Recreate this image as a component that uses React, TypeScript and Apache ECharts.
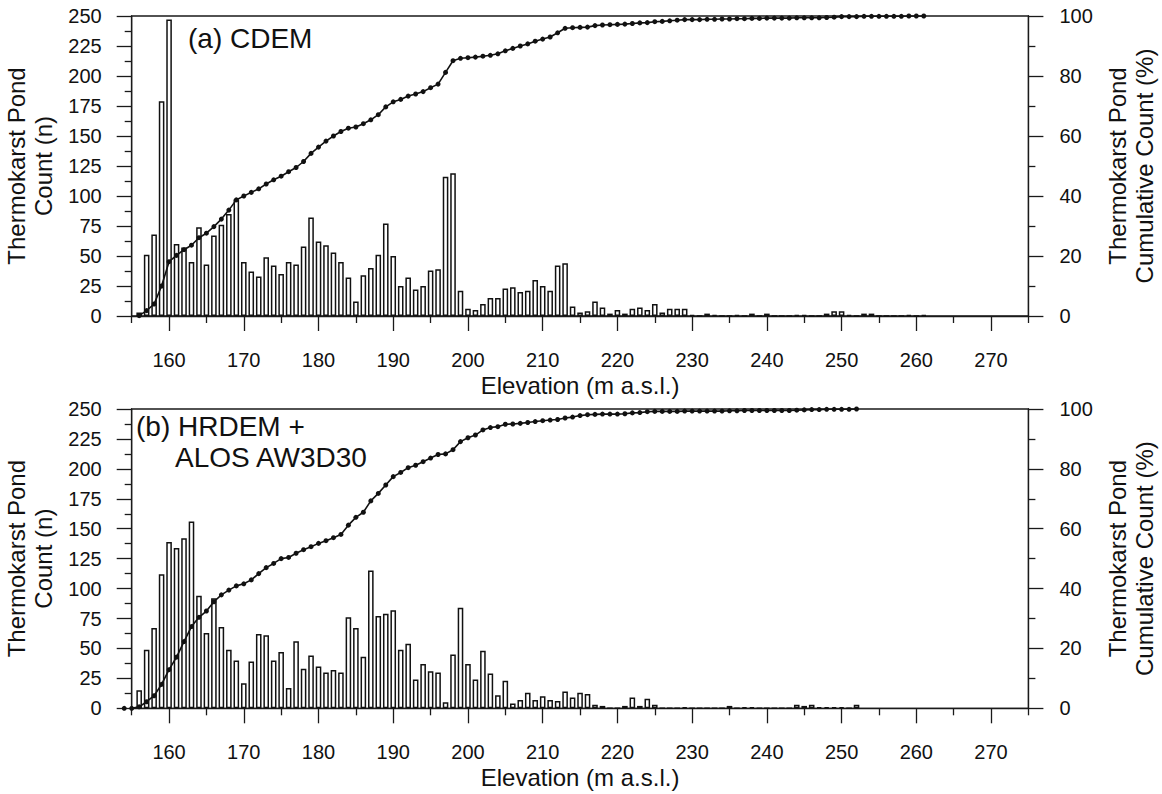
import React, { useEffect, useRef } from "react";
import * as echarts from "echarts";

// ---------- Data ----------
const xTickLabels = [160, 170, 180, 190, 200, 210, 220, 230, 240, 250, 260, 270];

// Panel (a) CDEM: histogram (1 m bins)
const elevA = [
  156, 157, 158, 159, 160, 161, 162, 163, 164, 165, 166, 167, 168, 169, 170, 171, 172, 173, 174, 175,
  176, 177, 178, 179, 180, 181, 182, 183, 184, 185, 186, 187, 188, 189, 190, 191, 192, 193, 194, 195,
  196, 197, 198, 199, 200, 201, 202, 203, 204, 205, 206, 207, 208, 209, 210, 211, 212, 213, 214, 215,
  216, 217, 218, 219, 220, 221, 222, 223, 224, 225, 226, 227, 228, 229, 230, 231, 232, 233, 234, 235,
  236, 237, 238, 239, 240, 241, 242, 243, 244, 245, 246, 247, 248, 249, 250, 251, 252, 253, 254, 255,
  256, 257, 258, 259, 260, 261,
];
const countA = [
  3, 51, 68, 179, 247, 60, 57, 45, 74, 43,
  67, 76, 85, 97, 45, 37, 33, 49, 42, 35,
  45, 43, 58, 82, 62, 59, 53, 45, 32, 12,
  34, 40, 51, 77, 50, 25, 32, 22, 25, 38,
  39, 116, 119, 21, 6, 5, 10, 15, 15, 23,
  24, 20, 21, 30, 25, 21, 42, 44, 8, 3,
  4, 12, 7, 2, 5, 2, 6, 7, 5, 10,
  3, 6, 6, 6, 1, 0, 2, 1, 0, 0,
  1, 0, 2, 0, 2, 0, 0, 0, 1, 1,
  0, 0, 2, 4, 4, 1, 0, 2, 2, 0,
  0, 0, 0, 1, 0, 1,
];
// Panel (a) cumulative count (%) at the same elevations
const cumA = [
  0.1, 1.8, 4.0, 10.0, 18.1, 20.2, 22.1, 23.6, 26.1, 27.6,
  29.8, 32.3, 35.3, 38.7, 40.0, 41.2, 42.4, 44.0, 45.4, 46.6,
  48.1, 49.5, 51.5, 54.2, 56.3, 58.3, 60.0, 61.5, 62.6, 63.0,
  64.1, 65.4, 67.1, 69.7, 71.4, 72.2, 73.3, 74.0, 74.8, 76.1,
  77.3, 81.2, 85.1, 85.9, 86.1, 86.3, 86.6, 86.9, 87.4, 88.4,
  89.2, 90.0, 90.7, 91.6, 92.3, 93.0, 94.4, 95.9, 96.1, 96.2,
  96.3, 96.8, 97.0, 97.1, 97.2, 97.3, 97.5, 97.7, 97.8, 98.1,
  98.2, 98.4, 98.6, 98.8, 98.8, 98.8, 98.9, 98.9, 99.0, 99.0,
  99.1, 99.1, 99.2, 99.2, 99.3, 99.3, 99.3, 99.3, 99.4, 99.4,
  99.4, 99.4, 99.5, 99.6, 99.8, 99.8, 99.8, 99.9, 99.9, 99.9,
  99.9, 99.9, 99.9, 100, 100, 100,
];

// Panel (b) HRDEM + ALOS AW3D30: histogram (1 m bins)
const elevB = [
  156, 157, 158, 159, 160, 161, 162, 163, 164, 165, 166, 167, 168, 169, 170, 171, 172, 173, 174, 175,
  176, 177, 178, 179, 180, 181, 182, 183, 184, 185, 186, 187, 188, 189, 190, 191, 192, 193, 194, 195,
  196, 197, 198, 199, 200, 201, 202, 203, 204, 205, 206, 207, 208, 209, 210, 211, 212, 213, 214, 215,
  216, 217, 218, 219, 220, 221, 222, 223, 224, 225, 226, 227, 228, 229, 230, 231, 232, 233, 234, 235,
  236, 237, 238, 239, 240, 241, 242, 243, 244, 245, 246, 247, 248, 249, 250, 251, 252,
];
const countB = [
  15, 49, 67, 112, 139, 134, 142, 156, 94, 63,
  92, 68, 49, 40, 21, 39, 62, 61, 40, 47,
  17, 56, 33, 44, 35, 30, 32, 30, 76, 67,
  43, 115, 77, 79, 82, 49, 54, 24, 37, 31,
  30, 5, 45, 84, 37, 24, 48, 29, 11, 23,
  4, 7, 13, 7, 10, 7, 6, 14, 9, 13,
  12, 3, 2, 0, 0, 2, 9, 2, 8, 3,
  0, 0, 0, 1, 0, 0, 0, 0, 0, 2,
  0, 1, 1, 0, 0, 0, 0, 0, 3, 2,
  3, 1, 1, 1, 1, 0, 3,
];
// Panel (b) cumulative count (%)
const cumElevB = [
  154, 155,
  156, 157, 158, 159, 160, 161, 162, 163, 164, 165, 166, 167, 168, 169, 170, 171, 172, 173, 174, 175,
  176, 177, 178, 179, 180, 181, 182, 183, 184, 185, 186, 187, 188, 189, 190, 191, 192, 193, 194, 195,
  196, 197, 198, 199, 200, 201, 202, 203, 204, 205, 206, 207, 208, 209, 210, 211, 212, 213, 214, 215,
  216, 217, 218, 219, 220, 221, 222, 223, 224, 225, 226, 227, 228, 229, 230, 231, 232, 233, 234, 235,
  236, 237, 238, 239, 240, 241, 242, 243, 244, 245, 246, 247, 248, 249, 250, 251, 252,
];
const cumB = [
  0, 0,
  0.5, 2.2, 4.2, 8.0, 12.9, 17.1, 22.3, 27.3, 30.4, 32.5,
  35.6, 37.9, 39.5, 40.9, 41.6, 42.9, 45.0, 47.0, 48.4, 50.0,
  50.4, 51.8, 53.0, 54.0, 55.1, 56.0, 57.0, 58.1, 61.2, 63.8,
  65.5, 69.3, 71.8, 74.6, 77.4, 78.8, 80.4, 81.2, 82.4, 83.6,
  84.8, 85.0, 86.4, 89.1, 90.4, 91.3, 93.0, 93.8, 94.1, 94.9,
  95.0, 95.2, 95.5, 95.8, 96.1, 96.3, 96.5, 97.0, 97.3, 97.8,
  98.1, 98.2, 98.3, 98.3, 98.3, 98.4, 98.7, 98.8, 99.1, 99.2,
  99.2, 99.2, 99.2, 99.3, 99.3, 99.3, 99.3, 99.3, 99.3, 99.4,
  99.4, 99.5, 99.5, 99.5, 99.5, 99.5, 99.5, 99.5, 99.6, 99.7,
  99.8, 99.8, 99.9, 99.9, 99.9, 99.9, 100,
];

const panelLabelA = "(a) CDEM";
const panelLabelB1 = "(b) HRDEM +";
const panelLabelB2 = "ALOS AW3D30";
const xName = "Elevation (m a.s.l.)";
const yLeftName = "Thermokarst Pond\nCount (n)";
const yRightName = "Thermokarst Pond\nCumulative Count (%)";

// ---------- Styling ----------
const FONT = "'Liberation Sans', Arial, Helvetica, sans-serif";
const INK = "#111";
const LINE = "#1a1a1a";

const pairs = (xs: number[], ys: number[]) => xs.map((x, i) => [x, ys[i]]);

function buildOption() {
  const grids = [
    { left: 131.7, top: 16, width: 896.7, height: 300 },
    { left: 131.7, top: 409, width: 896.7, height: 299.3 },
  ].map((g) => ({
    ...g,
    show: true,
    borderColor: LINE,
    borderWidth: 1.3,
    backgroundColor: "transparent",
    containLabel: false,
    outerBoundsMode: "none",
  }));

  const xAxes: any[] = [];
  const yAxes: any[] = [];
  [0, 1].forEach((gi) => {
    // main axis with labelled (major) ticks
    xAxes.push({
      type: "value",
      gridIndex: gi,
      position: "bottom",
      min: 155,
      max: 275,
      interval: 5,
      splitLine: { show: false },
      axisLine: { show: true, onZero: false, lineStyle: { color: LINE, width: 1.3 } },
      axisTick: {
        show: true,
        length: 15,
        customValues: xTickLabels,
        lineStyle: { color: LINE, width: 1.3 },
      },
      axisLabel: {
        show: true,
        customValues: xTickLabels,
        margin: 34,
        fontSize: 20,
        color: INK,
        fontFamily: FONT,
      },
      name: xName,
      nameLocation: "middle",
      nameGap: 57,
      nameTextStyle: { fontSize: 24, color: INK, fontFamily: FONT },
    });
    // secondary axis: short ticks at 155, 165, ... 275
    xAxes.push({
      type: "value",
      gridIndex: gi,
      position: "bottom",
      min: 155,
      max: 275,
      interval: 10,
      splitLine: { show: false },
      axisLine: { show: false },
      axisTick: { show: true, length: 7, lineStyle: { color: LINE, width: 1.3 } },
      axisLabel: { show: false },
    });
    yAxes.push({
      type: "value",
      gridIndex: gi,
      position: "left",
      min: 0,
      max: 250,
      interval: 25,
      splitLine: { show: false },
      axisLine: { show: true, lineStyle: { color: LINE, width: 1.3 } },
      axisTick: { show: true, length: 15, lineStyle: { color: LINE, width: 1.3 } },
      minorTick: { show: true, splitNumber: 2, length: 7, lineStyle: { color: LINE, width: 1.3 } },
      axisLabel: { margin: 30, fontSize: 20, color: INK, fontFamily: FONT },
      name: yLeftName,
      nameLocation: "middle",
      nameRotate: 90,
      nameGap: 73,
      nameTextStyle: { fontSize: 24, lineHeight: 27, color: INK, fontFamily: FONT, align: "center" },
    });
    yAxes.push({
      type: "value",
      gridIndex: gi,
      position: "right",
      min: 0,
      max: 100,
      interval: 20,
      splitLine: { show: false },
      axisLine: { show: true, lineStyle: { color: LINE, width: 1.3 } },
      axisTick: { show: true, length: 15, lineStyle: { color: LINE, width: 1.3 } },
      minorTick: { show: true, splitNumber: 2, length: 7, lineStyle: { color: LINE, width: 1.3 } },
      axisLabel: { margin: 31, fontSize: 20, color: INK, fontFamily: FONT },
      name: yRightName,
      nameLocation: "middle",
      nameRotate: 90,
      nameGap: 69,
      nameTextStyle: { fontSize: 24, lineHeight: 27, color: INK, fontFamily: FONT, align: "center" },
    });
  });

  const barStyle = {
    color: "#ffffff",
    borderColor: "#111",
    borderWidth: 1.5,
  };
  const lineCommon = {
    type: "line",
    symbol: "circle",
    symbolSize: 5,
    showSymbol: true,
    lineStyle: { color: "#111", width: 1.6 },
    itemStyle: { color: "#111" },
    z: 5,
  };

  const series: any[] = [
    {
      type: "bar",
      xAxisIndex: 0,
      yAxisIndex: 0,
      barWidth: 5.6,
      itemStyle: barStyle,
      data: pairs(elevA, countA),
      z: 2,
    },
    { ...lineCommon, xAxisIndex: 0, yAxisIndex: 1, data: pairs(elevA, cumA) },
    {
      type: "bar",
      xAxisIndex: 2,
      yAxisIndex: 2,
      barWidth: 5.6,
      itemStyle: barStyle,
      data: pairs(elevB, countB),
      z: 2,
    },
    { ...lineCommon, xAxisIndex: 2, yAxisIndex: 3, clip: false, data: pairs(cumElevB, cumB) },
  ];

  const graphic = [
    {
      type: "text",
      left: 188,
      top: 24,
      style: { text: panelLabelA, fontSize: 28, fill: INK, fontFamily: FONT },
      z: 10,
    },
    {
      type: "text",
      left: 136,
      top: 412,
      style: { text: panelLabelB1, fontSize: 28, fill: INK, fontFamily: FONT },
      z: 10,
    },
    {
      type: "text",
      left: 175,
      top: 443,
      style: { text: panelLabelB2, fontSize: 28, fill: INK, fontFamily: FONT },
      z: 10,
    },
  ];

  return {
    animation: false,
    backgroundColor: "#ffffff",
    textStyle: { fontFamily: FONT },
    grid: grids,
    xAxis: xAxes,
    yAxis: yAxes,
    series,
    graphic,
  };
}

export default function App() {
  const ref = useRef<HTMLDivElement>(null);
  useEffect(() => {
    if (!ref.current) return;
    const chart = echarts.init(ref.current, undefined, { renderer: "svg" });
    chart.setOption(buildOption() as any);
    return () => chart.dispose();
  }, []);
  return (
    <div
      ref={ref}
      style={{ position: "fixed", left: 0, top: 0, width: 1162, height: 794, background: "#fff" }}
    />
  );
}
